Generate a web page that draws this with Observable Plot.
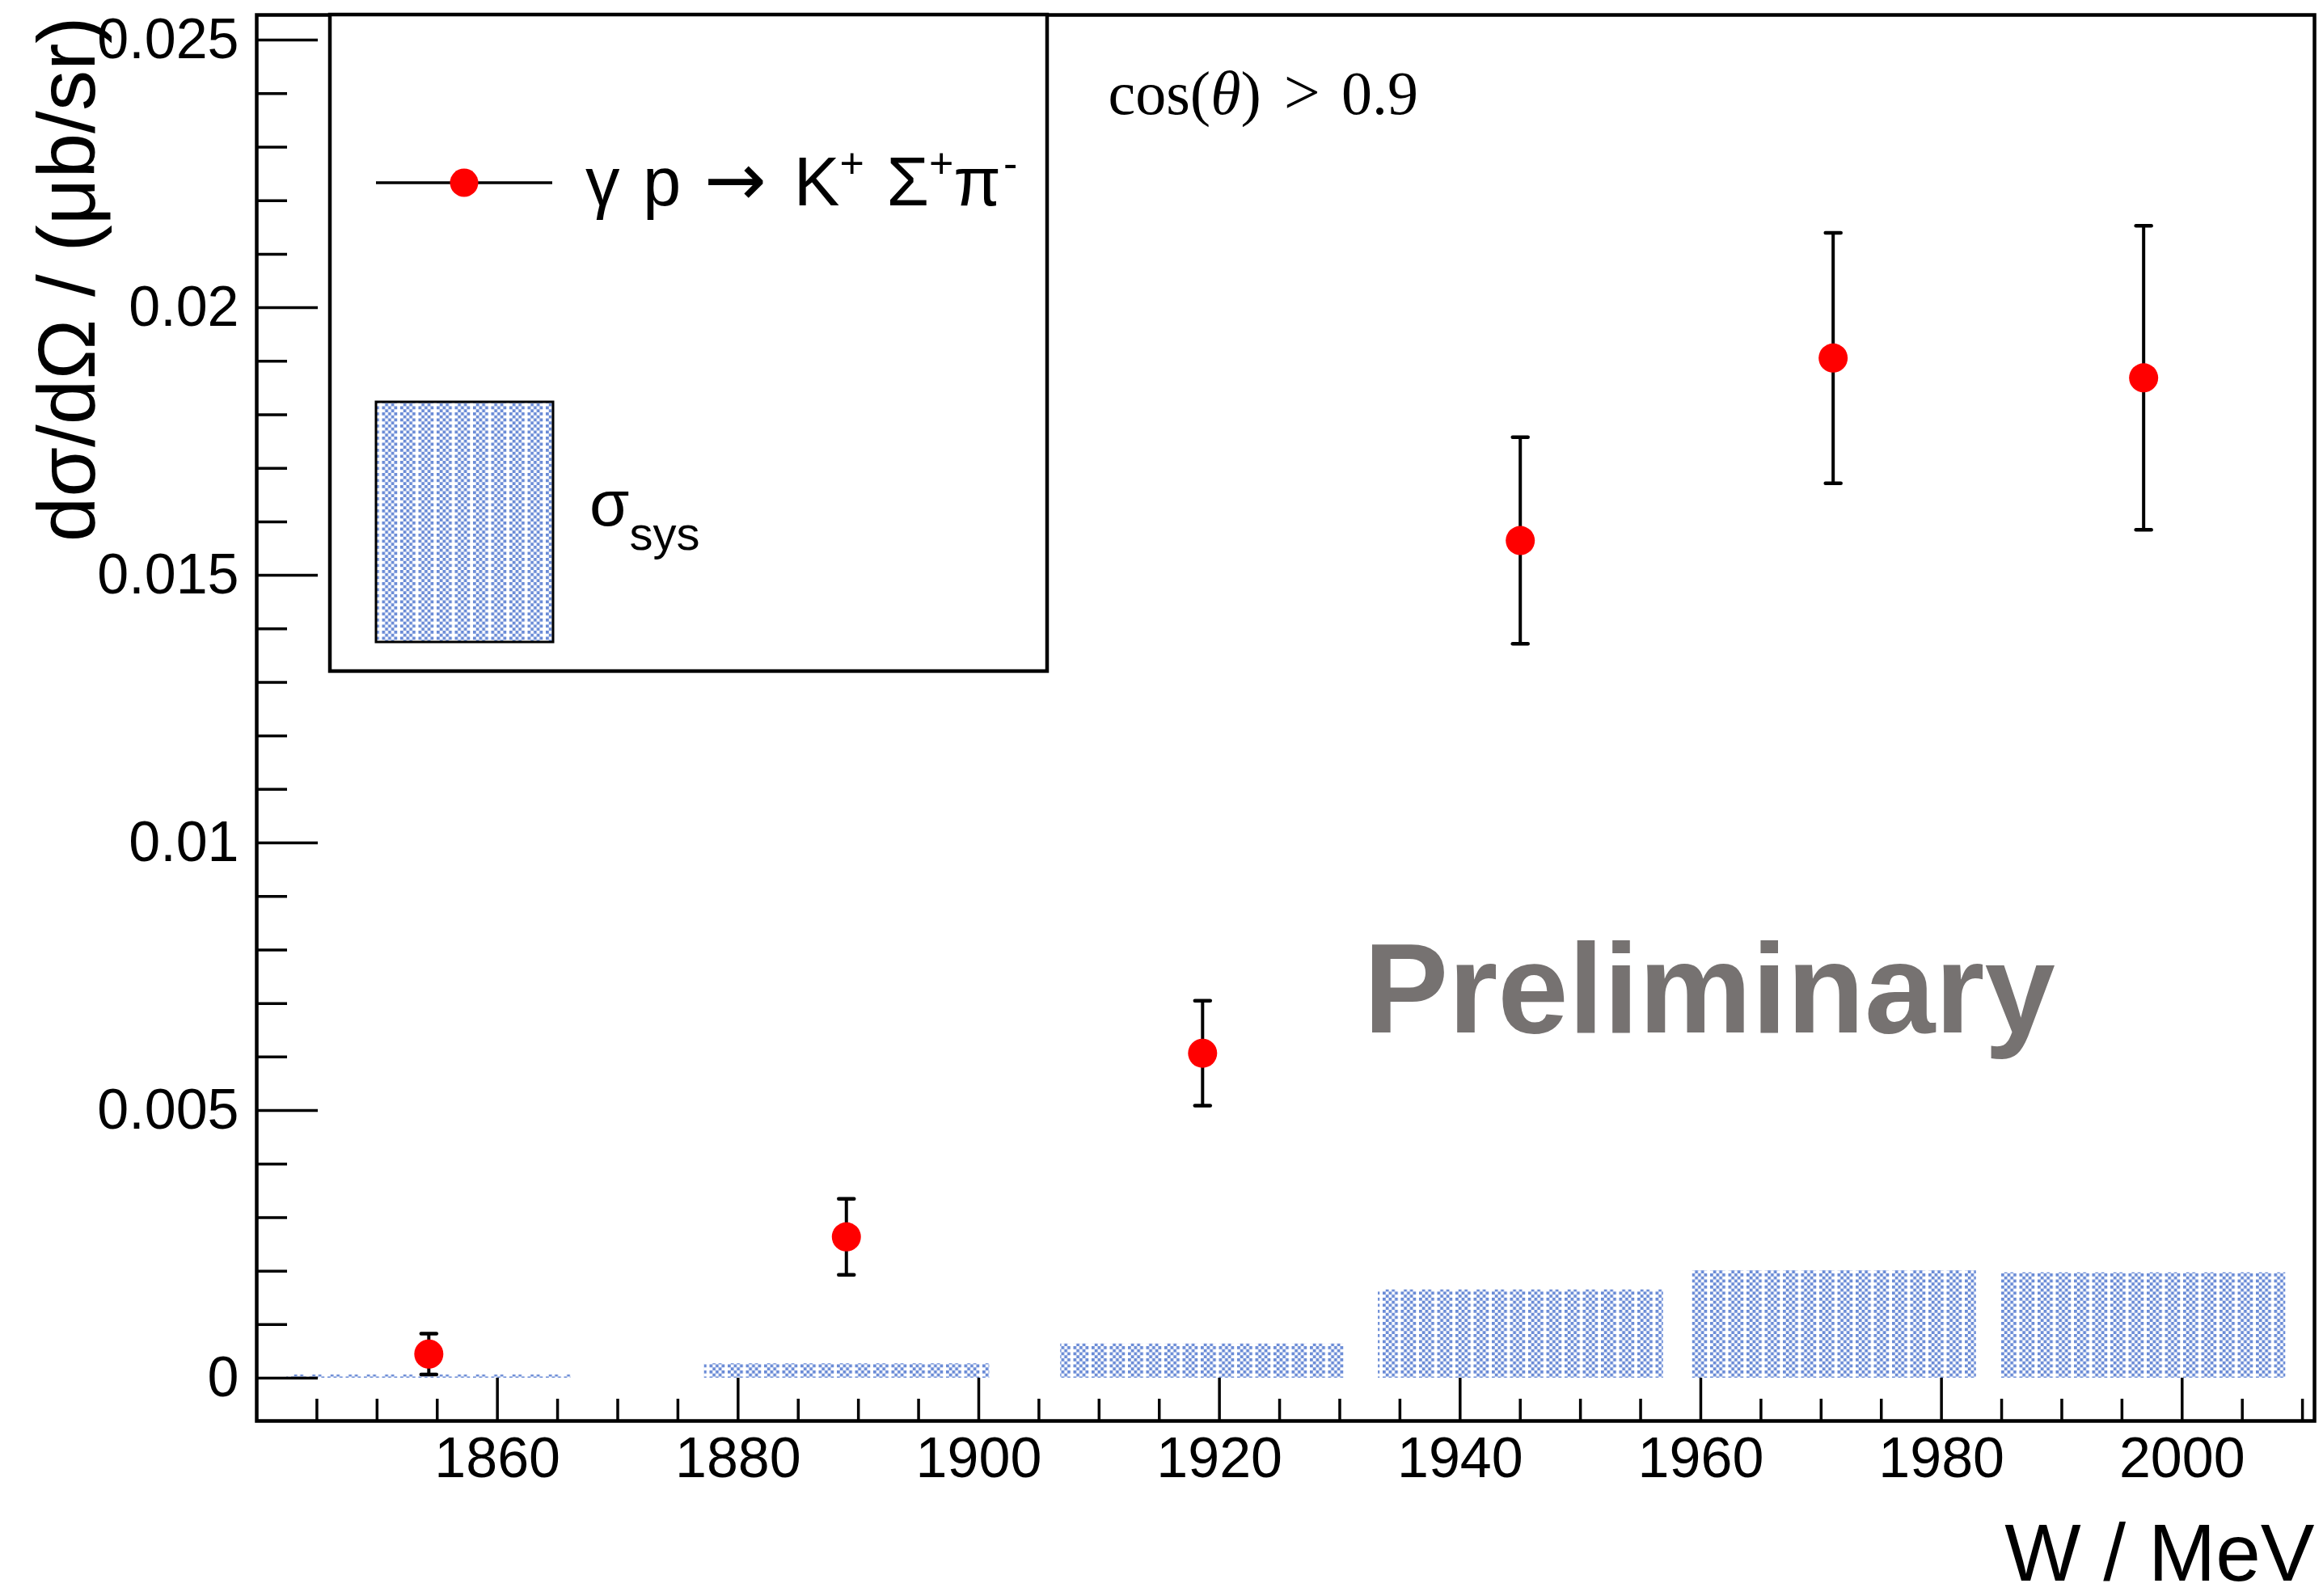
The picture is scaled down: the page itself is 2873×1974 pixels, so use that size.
<!DOCTYPE html>
<html>
<head>
<meta charset="utf-8">
<script src="https://cdn.jsdelivr.net/npm/d3@7"></script>
<script src="https://cdn.jsdelivr.net/npm/@observablehq/plot@0.6"></script>
<style>
  html, body { margin: 0; padding: 0; background: white; overflow: hidden; }
  svg { display: block; }
</style>
</head>
<body>
<div id="chart"></div>
<script>
// ---- data ----
const W      = [1854.3, 1889.0, 1918.6, 1945.0, 1971.0, 1996.8];          // MeV
const xsec   = [0.00045, 0.00264, 0.00607, 0.01565, 0.01906, 0.01869];    // µb/sr
const errStat= [0.00038, 0.00071, 0.00098, 0.00193, 0.00234, 0.00284];
const sysLow = [1842.5, 1877.2, 1906.8, 1933.2, 1959.3, 1985.0];
const sysHigh= [1866.1, 1900.9, 1930.5, 1956.9, 1982.9, 2008.6];
const sysVal = [0.00006, 0.00027, 0.00064, 0.00165, 0.00201, 0.00197];

const xDomain = [1840, 2011];
const yDomain = [-0.0008, 0.02547];
const xMajor = [1860, 1880, 1900, 1920, 1940, 1960, 1980, 2000];
const xMinor = [1845, 1850, 1855, 1865, 1870, 1875, 1885, 1890, 1895, 1905, 1910, 1915,
                1925, 1930, 1935, 1945, 1950, 1955, 1965, 1970, 1975, 1985, 1990, 1995, 2005, 2010];
const yMajor = [0, 0.005, 0.01, 0.015, 0.02, 0.025];
const yMinor = [0.001, 0.002, 0.003, 0.004, 0.006, 0.007, 0.008, 0.009, 0.011, 0.012, 0.013, 0.014,
                0.016, 0.017, 0.018, 0.019, 0.021, 0.022, 0.023, 0.024];

const xTitle = "W / MeV";
const yTitle = "dσ/dΩ / (μb/sr)";
const cutText = "cos(θ) > 0.9";
const prelimText = "Preliminary";

const points = W.map((w, i) => ({W: w, v: xsec[i], e: errStat[i]}));
const bands = sysLow.map((lo, i) => ({lo, hi: sysHigh[i], s: sysVal[i]}));

const SANS = "'Liberation Sans', Arial, Helvetica, sans-serif";
const SERIF = "'Liberation Serif', 'Times New Roman', Times, serif";

const capShape = { draw(ctx, l) { ctx.moveTo(0, 0); ctx.lineTo(0, -l); } };

const svg = Plot.plot({
  width: 2873,
  height: 1974,
  marginLeft: 317,
  marginRight: 11,
  marginTop: 18,
  marginBottom: 217,
  x: {domain: xDomain},
  y: {domain: yDomain},
  style: {fontFamily: SANS, fontSize: "70px", background: "white", overflow: "visible", color: "black"},
  marks: [
    Plot.rect(bands, {x1: "lo", x2: "hi", y1: 0, y2: "s", fill: "url(#sysPat)"}),
    Plot.ruleX(points, {x: "W", y1: d => d.v - d.e, y2: d => d.v + d.e, stroke: "black", strokeWidth: 4}),
    Plot.vector(points, {x: "W", y: d => d.v + d.e, length: 19, rotate: 90, anchor: "middle", shape: capShape, stroke: "black", strokeWidth: 4.5}),
    Plot.vector(points, {x: "W", y: d => d.v - d.e, length: 19, rotate: 90, anchor: "middle", shape: capShape, stroke: "black", strokeWidth: 4.5}),
    Plot.dot(points, {x: "W", y: "v", r: 18, fill: "#ff0000", stroke: null}),
    Plot.frame({stroke: "black", strokeWidth: 4.5}),
    Plot.axisY(yMajor, {tickSize: -76, tickPadding: 98, fontSize: 70, tickFormat: d => String(d), strokeWidth: 3.5, label: null}),
    Plot.axisY(yMinor, {tickSize: -38, tickFormat: () => "", strokeWidth: 3.5, label: null}),
    Plot.axisX(xMajor, {tickSize: -53, tickPadding: 73, fontSize: 70, tickFormat: d => String(d), strokeWidth: 3.5, label: null}),
    Plot.axisX(xMinor, {tickSize: -27, tickFormat: () => "", strokeWidth: 3.5, label: null}),
    Plot.text([yTitle], {frameAnchor: "top-left", rotate: -90, textAnchor: "end", lineAnchor: "bottom", dx: -201, dy: 2, fontSize: 100}),
    Plot.text([xTitle], {frameAnchor: "bottom-right", textAnchor: "end", lineAnchor: "bottom", dy: 197, fontSize: 100}),
    Plot.text([cutText], {frameAnchor: "top-left", textAnchor: "start", lineAnchor: "bottom", dx: 1053, dy: 122, fontSize: 76, fontFamily: SERIF}),
    Plot.text([prelimText], {frameAnchor: "top-left", textAnchor: "start", lineAnchor: "bottom", dx: 1369, dy: 1258, fontSize: 157, fontWeight: "bold", fill: "#767271"})
  ]
});

document.getElementById("chart").appendChild(svg);

const root = d3.select(svg);

// pattern for systematic bands (ROOT-like dotted fill)
const defs = root.insert("defs", ":first-child");
const pat = defs.append("pattern").attr("id", "sysPat").attr("patternUnits", "userSpaceOnUse")
  .attr("width", 22.5).attr("height", 7.5);
pat.append("rect").attr("width", 22.5).attr("height", 7.5).attr("fill", "white");
const c = 3.75, blue = "#6a8bd6";
[[0,0],[2,0],[4,0],[1,1],[3,1]].forEach(([i, j]) =>
  pat.append("rect").attr("x", i * c).attr("y", j * c).attr("width", c).attr("height", c).attr("fill", blue));

// rich text helper (sub/superscripts, italics, font overrides)
function rich(sel, parts) {
  sel.text(null);
  let shift = 0;
  for (const p of parts) {
    const ts = sel.append("tspan").text(p.t);
    const target = p.shift || 0;
    const dy = target - shift;
    if (dy) ts.attr("dy", dy);
    shift = target;
    if (p.size) ts.style("font-size", p.size + "px");
    if (p.italic) ts.style("font-style", "italic");
    if (p.font) ts.style("font-family", p.font);
    if (p.dx) ts.attr("dx", p.dx);
  }
}

const cutEl = root.selectAll("text").filter(function() { return this.textContent === cutText; });
rich(cutEl, [
  {t: "cos("}, {t: "θ", italic: true}, {t: ")"}, {t: ">", dx: 28, size: 80}, {t: "0.9", dx: 26}
]);

// legend
const lg = root.append("g").attr("aria-label", "legend").attr("font-family", SANS).attr("text-anchor", "start");
lg.append("rect").attr("x", 408).attr("y", 18).attr("width", 887).attr("height", 812)
  .attr("fill", "white").attr("stroke", "black").attr("stroke-width", 4.5);
lg.append("line").attr("x1", 465).attr("x2", 683).attr("y1", 226).attr("y2", 226)
  .attr("stroke", "black").attr("stroke-width", 3.5);
lg.append("circle").attr("cx", 574).attr("cy", 226).attr("r", 17.5).attr("fill", "#ff0000");
rich(lg.append("text").attr("x", 724).attr("y", 254).attr("font-size", 85), [
  {t: "γ"}, {t: " p", dx: 5}, {t: " "}, {t: "→", font: "'DejaVu Sans', sans-serif", size: 92, dx: 5}, {t: " K", dx: 10},
  {t: "+", size: 52, shift: -34}, {t: " Σ", dx: 4}, {t: "+", size: 52, shift: -34},
  {t: "π"}, {t: "-", size: 52, shift: -34, dx: 3}
]);
lg.append("rect").attr("x", 465).attr("y", 497).attr("width", 219).attr("height", 297)
  .attr("fill", "url(#sysPat)").attr("stroke", "black").attr("stroke-width", 3);
rich(lg.append("text").attr("x", 729).attr("y", 650).attr("font-size", 80), [
  {t: "σ"}, {t: "sys", size: 58, shift: 30}
]);
</script>
</body>
</html>
